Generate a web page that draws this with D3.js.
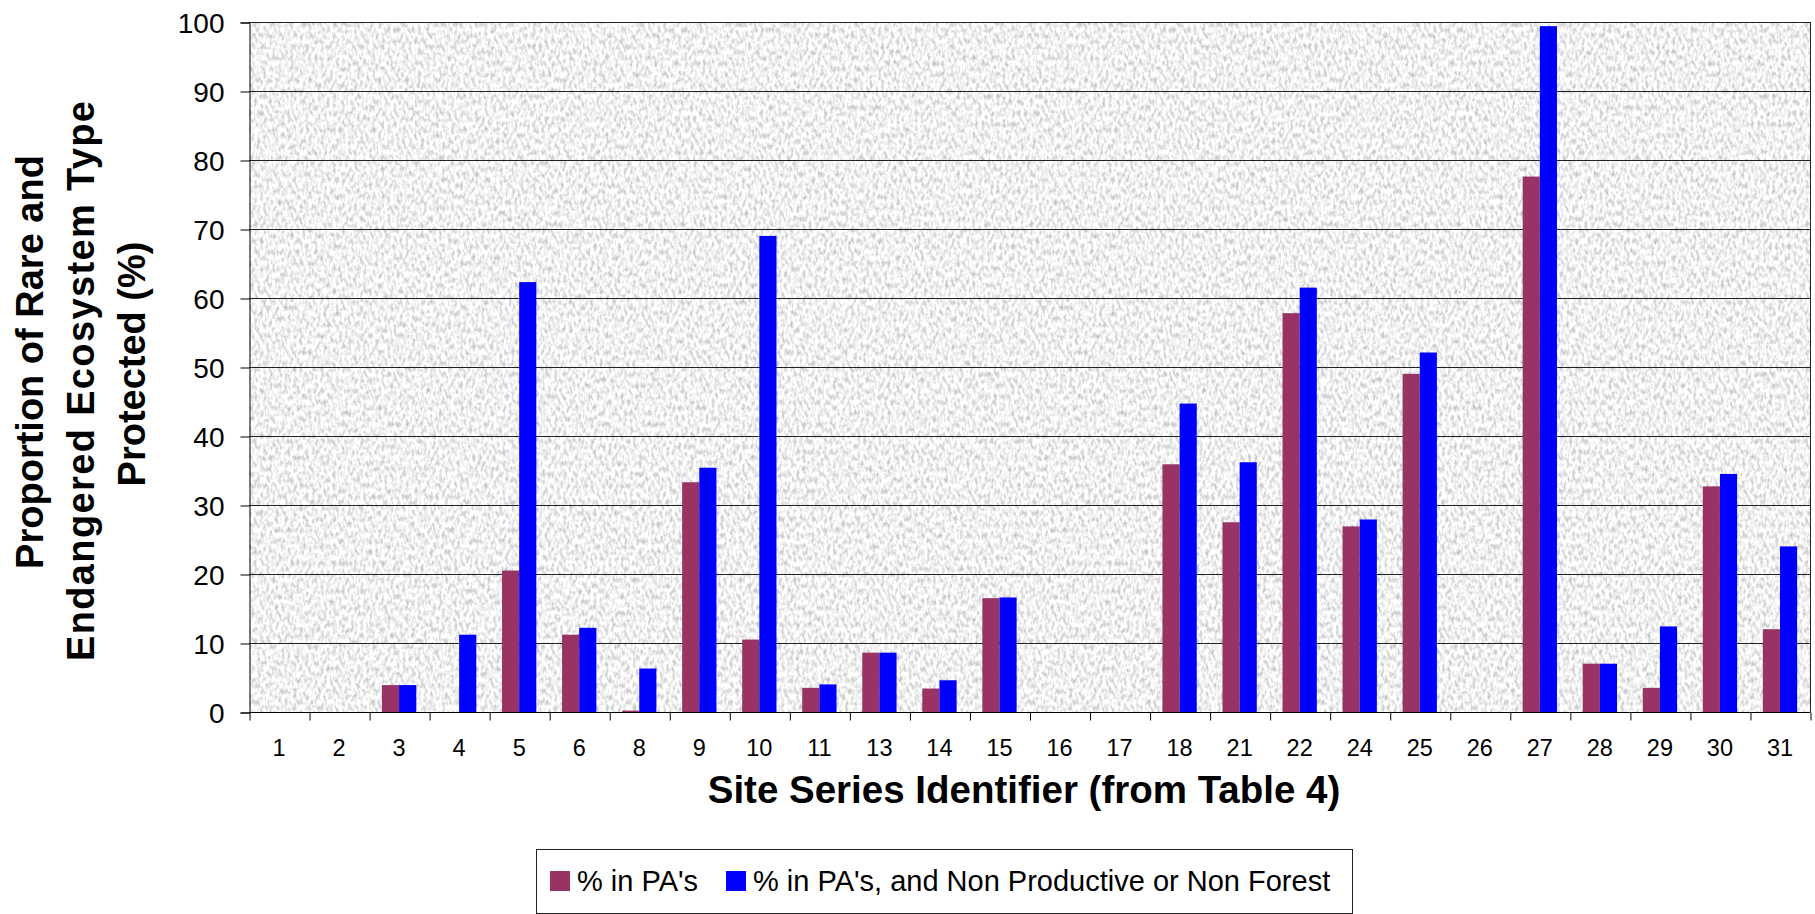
<!DOCTYPE html>
<html>
<head>
<meta charset="utf-8">
<script src="https://cdn.jsdelivr.net/npm/d3@7"></script>
<style>
  body { margin: 0; background: #fff; }
  text { font-family: "Liberation Sans", Arial, sans-serif; fill: #000; }
</style>
</head>
<body>
<div id="chart"></div>
<script>
// site series ids along the x axis
var sites = ['1', '2', '3', '4', '5', '6', '8', '9', '10', '11', '13', '14', '15',
  '16', '17', '18', '21', '22', '24', '25', '26', '27', '28', '29', '30', '31'];

// % in PA's
var pctPA = [0, 0, 3.9, 0, 20.5, 11.2, 0.2, 33.3, 10.5, 3.5, 8.6, 3.4, 16.5,
  0, 0, 35.9, 27.5, 57.8, 26.9, 49.0, 0, 77.6, 7.0, 3.5, 32.7, 12.0];

// % in PA's, and Non Productive or Non Forest
var pctPANonProd = [0, 0, 3.9, 11.2, 62.3, 12.2, 6.3, 35.4, 69.0, 4.0, 8.6, 4.6, 16.6,
  0, 0, 44.7, 36.2, 61.5, 27.9, 52.1, 0, 99.4, 7.0, 12.4, 34.5, 24.0];

var seriesNames = ["% in PA's", "% in PA's, and Non Productive or Non Forest"];
var seriesColors = ['#993366', '#0000ff'];
var yTicks = [0, 10, 20, 30, 40, 50, 60, 70, 80, 90, 100];
var yTitleLines = ['Proportion of Rare and', 'Endangered Ecosystem Type', 'Protected (%)'];

(function(d3) {
  'use strict';

  var width = 1815;
  var height = 914;
  var left = 249, right = 1810, top = 22, bottom = 712;

  var svg = d3.select('#chart')
    .append('svg')
    .attr('width', width)
    .attr('height', height);

  // grey speckled plot background, like the old excel texture
  var defs = svg.append('defs');
  var filt = defs.append('filter')
    .attr('id', 'speckle')
    .attr('x', 0).attr('y', 0).attr('width', 1).attr('height', 1)
    .attr('color-interpolation-filters', 'sRGB');
  filt.append('feTurbulence')
    .attr('type', 'fractalNoise')
    .attr('baseFrequency', '0.33 0.18')
    .attr('numOctaves', 2)
    .attr('seed', 7);
  filt.append('feColorMatrix')
    .attr('type', 'matrix')
    .attr('values', '0.55 0 0 0 0.67  0.55 0 0 0 0.67  0.55 0 0 0 0.67  0 0 0 0 1');

  var x = d3.scaleBand()
    .domain(sites)
    .range([left, right]);

  // excel style: gap width 150% between the pairs
  var xInner = d3.scaleBand()
    .domain([0, 1])
    .range([0, x.bandwidth()])
    .paddingOuter(0.75);

  var y = d3.scaleLinear()
    .domain([0, 100])
    .range([bottom, top]);

  svg.append('rect')
    .attr('x', left)
    .attr('y', top)
    .attr('width', right - left)
    .attr('height', bottom - top)
    .attr('fill', '#e8e8e8')
    .attr('filter', 'url(#speckle)');

  // gridlines
  svg.append('g')
    .selectAll('line')
    .data(yTicks.filter(function(d) { return d > 0; }))
    .enter()
    .append('line')
    .attr('x1', left)
    .attr('x2', right)
    .attr('y1', function(d) { return y(d) + 0.5; })
    .attr('y2', function(d) { return y(d) + 0.5; })
    .attr('stroke', '#222')
    .attr('stroke-width', 1);

  svg.append('line')
    .attr('x1', right + 0.5).attr('x2', right + 0.5)
    .attr('y1', top).attr('y2', bottom)
    .attr('stroke', '#222');

  // bars
  var series = [pctPA, pctPANonProd];
  series.forEach(function(vals, s) {
    svg.append('g')
      .selectAll('rect')
      .data(vals)
      .enter()
      .append('rect')
      .attr('x', function(d, i) { return x(sites[i]) + xInner(s); })
      .attr('y', function(d) { return y(d); })
      .attr('width', xInner.bandwidth())
      .attr('height', function(d) { return y(0) - y(d); })
      .attr('fill', seriesColors[s]);
  });

  // y axis
  var yAxis = svg.append('g')
    .attr('transform', 'translate(' + (left + 0.5) + ',0.5)')
    .call(d3.axisLeft(y).tickValues(yTicks).tickSize(9).tickPadding(16));
  yAxis.selectAll('text')
    .style('font-size', '28px')
    .attr('dy', '0.36em');
  yAxis.select('.domain').attr('stroke', '#000');

  // x axis: ticks between categories, labels centered under each one
  var slots = d3.scaleLinear().domain([0, sites.length]).range([left, right]);
  var xTicks = svg.append('g')
    .attr('transform', 'translate(0.5,' + (bottom + 0.5) + ')')
    .call(d3.axisBottom(slots).ticks(sites.length).tickSize(8).tickFormat(''));
  xTicks.select('.domain').attr('d', 'M' + left + ',0H' + right);

  svg.append('g')
    .selectAll('text')
    .data(sites)
    .enter()
    .append('text')
    .attr('x', function(d) { return x(d) + x.bandwidth() / 2; })
    .attr('y', 756)
    .attr('text-anchor', 'middle')
    .style('font-size', '23.5px')
    .text(function(d) { return d; });

  // axis titles
  svg.append('text')
    .attr('x', 1024)
    .attr('y', 803)
    .attr('text-anchor', 'middle')
    .style('font-size', '38.5px')
    .style('font-weight', 'bold')
    .text('Site Series Identifier (from Table 4)');

  var titlePos = [
    { x: 43, y: 362, len: null },
    { x: 94, y: 381, len: 560 },
    { x: 145, y: 364, len: null }
  ];
  svg.append('g')
    .selectAll('text')
    .data(yTitleLines)
    .enter()
    .append('text')
    .attr('transform', function(d, i) {
      return 'translate(' + titlePos[i].x + ',' + titlePos[i].y + ') rotate(-90)';
    })
    .attr('text-anchor', 'middle')
    .attr('textLength', function(d, i) { return titlePos[i].len; })
    .style('font-size', '38px')
    .style('font-weight', 'bold')
    .text(function(d) { return d; });

  // legend
  var legend = svg.append('g');
  legend.append('rect')
    .attr('x', 536.5)
    .attr('y', 849.5)
    .attr('width', 816)
    .attr('height', 64)
    .attr('fill', '#fff')
    .attr('stroke', '#222');

  var legendX = [550, 726];
  seriesNames.forEach(function(name, i) {
    legend.append('rect')
      .attr('x', legendX[i])
      .attr('y', 871)
      .attr('width', 20)
      .attr('height', 20)
      .attr('fill', seriesColors[i]);
    legend.append('text')
      .attr('x', legendX[i] + 27)
      .attr('y', 891)
      .style('font-size', '29px')
      .text(name);
  });

})(window.d3);
</script>
</body>
</html>
